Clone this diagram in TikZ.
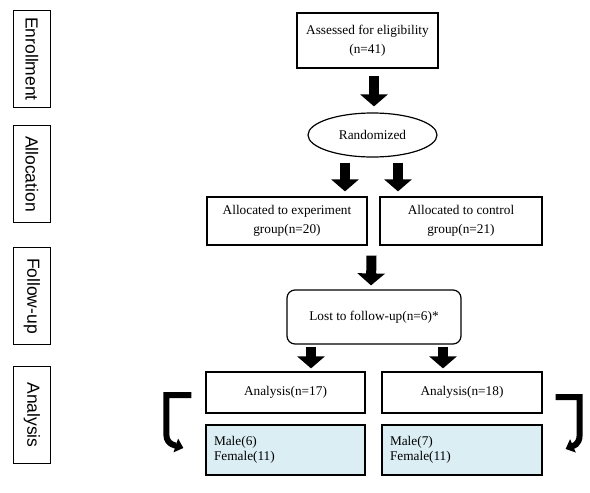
\documentclass[tikz,border=0pt]{standalone}
\usepackage{fontspec}
\setmainfont{Liberation Serif}
\newfontfamily\labelfont{Liberation Sans}
\usetikzlibrary{arrows.meta,shapes.geometric,calc}
\definecolor{boxfill}{HTML}{DAEEF3}
\begin{document}
\begin{tikzpicture}[x=1pt,y=-1pt,
  box/.style={draw=black,line width=1.2pt,inner sep=0pt,align=center,font=\fontsize{13.3}{18.5}\selectfont},
  sexbox/.style={draw=black,line width=1.2pt,fill=boxfill,inner xsep=8pt,inner ysep=0pt,align=left,text width=143pt,minimum height=50pt,font=\fontsize{13.3}{15.5}\selectfont},
  phase/.style={draw=black,line width=1.1pt,rotate=-90,minimum width=97pt,minimum height=37pt,inner sep=0pt,font=\labelfont\fontsize{17.5}{20}\selectfont},
  blockarrow/.style={line width=10pt,-{Triangle[width=27pt,length=12pt]}},
  bendarrow/.style={line width=6pt,-{Triangle[width=14pt,length=8pt]}},
]
\useasboundingbox (0,0) rectangle (590,493);

% phase labels
\node[phase] (enr) at (32,59) {Enrollment};
\node[phase] (all) at (32,174) {Allocation};
\node[phase] (fol) at (32,296) {Follow-up};
\node[phase] (ana) at (32,415) {Analysis};

% main boxes
\node[box,minimum width=141pt,minimum height=55pt] (assess) at (367.5,40.5) {Assessed for eligibility\\(n=41)};
\node[draw=black,ellipse,line width=1.2pt,minimum width=129pt,minimum height=44pt,inner sep=0pt,font=\fontsize{13.3}{15}\selectfont] (rand) at (372.5,135) {Randomized};
\node[box,minimum width=160pt,minimum height=48pt] (allocE) at (287,221) {Allocated to experiment\\group(n=20)};
\node[box,minimum width=162pt,minimum height=48pt] (allocC) at (461,221) {Allocated to control\\group(n=21)};
\node[box,rounded corners=8pt,minimum width=174pt,minimum height=54pt] (lost) at (374,317) {Lost to follow-up(n=6)*};
\node[box,minimum width=159pt,minimum height=41pt] (anaE) at (285.5,392.5) {Analysis(n=17)};
\node[box,minimum width=160pt,minimum height=41pt] (anaC) at (462,392.5) {Analysis(n=18)};
\node[sexbox] (sexE) at (285.5,450) {Male(6)\\Female(11)};
\node[sexbox,text width=144pt] (sexC) at (462,450) {Male(7)\\Female(11)};

% block arrows
\draw[blockarrow] ([xshift=6.5pt,yshift=-7pt]assess.south) -- ([xshift=1.5pt,yshift=6pt]rand.north);
\draw[blockarrow] ([xshift=-27.5pt,yshift=-5pt]rand.south) -- ([xshift=58pt,yshift=5pt]allocE.north);
\draw[blockarrow] ([xshift=25.5pt,yshift=-5pt]rand.south) -- ([xshift=-63pt,yshift=5pt]allocC.north);
\coordinate (mid) at ($(allocE.south east)!0.5!(allocC.south west)+(-2,10)$);
\draw[blockarrow] (mid) -- ([xshift=-3pt,yshift=4pt]lost.north);
\draw[blockarrow] ([xshift=-63pt,yshift=-2pt]lost.south) -- ([xshift=25.5pt,yshift=3pt]anaE.north);
\draw[blockarrow] ([xshift=69pt,yshift=-2pt]lost.south) -- ([xshift=-19pt,yshift=3pt]anaC.north);

% bent arrows
\coordinate (bl1) at ($(anaE.west)+(-14,2.5)$);
\coordinate (bl2) at ($(sexE.west)+(-22,-2)$);
\draw[bendarrow] (bl1) -- ++(-25,0) -- ++(0,40) .. controls +(0,10) and +(-6,-2) .. (bl2);
\coordinate (br1) at ($(anaC.east)+(13,4.5)$);
\coordinate (br2) at ($(sexC.east)+(23,-1)$);
\draw[bendarrow] (br1) -- ++(24,0) -- ++(0,38) .. controls +(0,10) and +(7,-3) .. (br2);
\end{tikzpicture}
\end{document}
